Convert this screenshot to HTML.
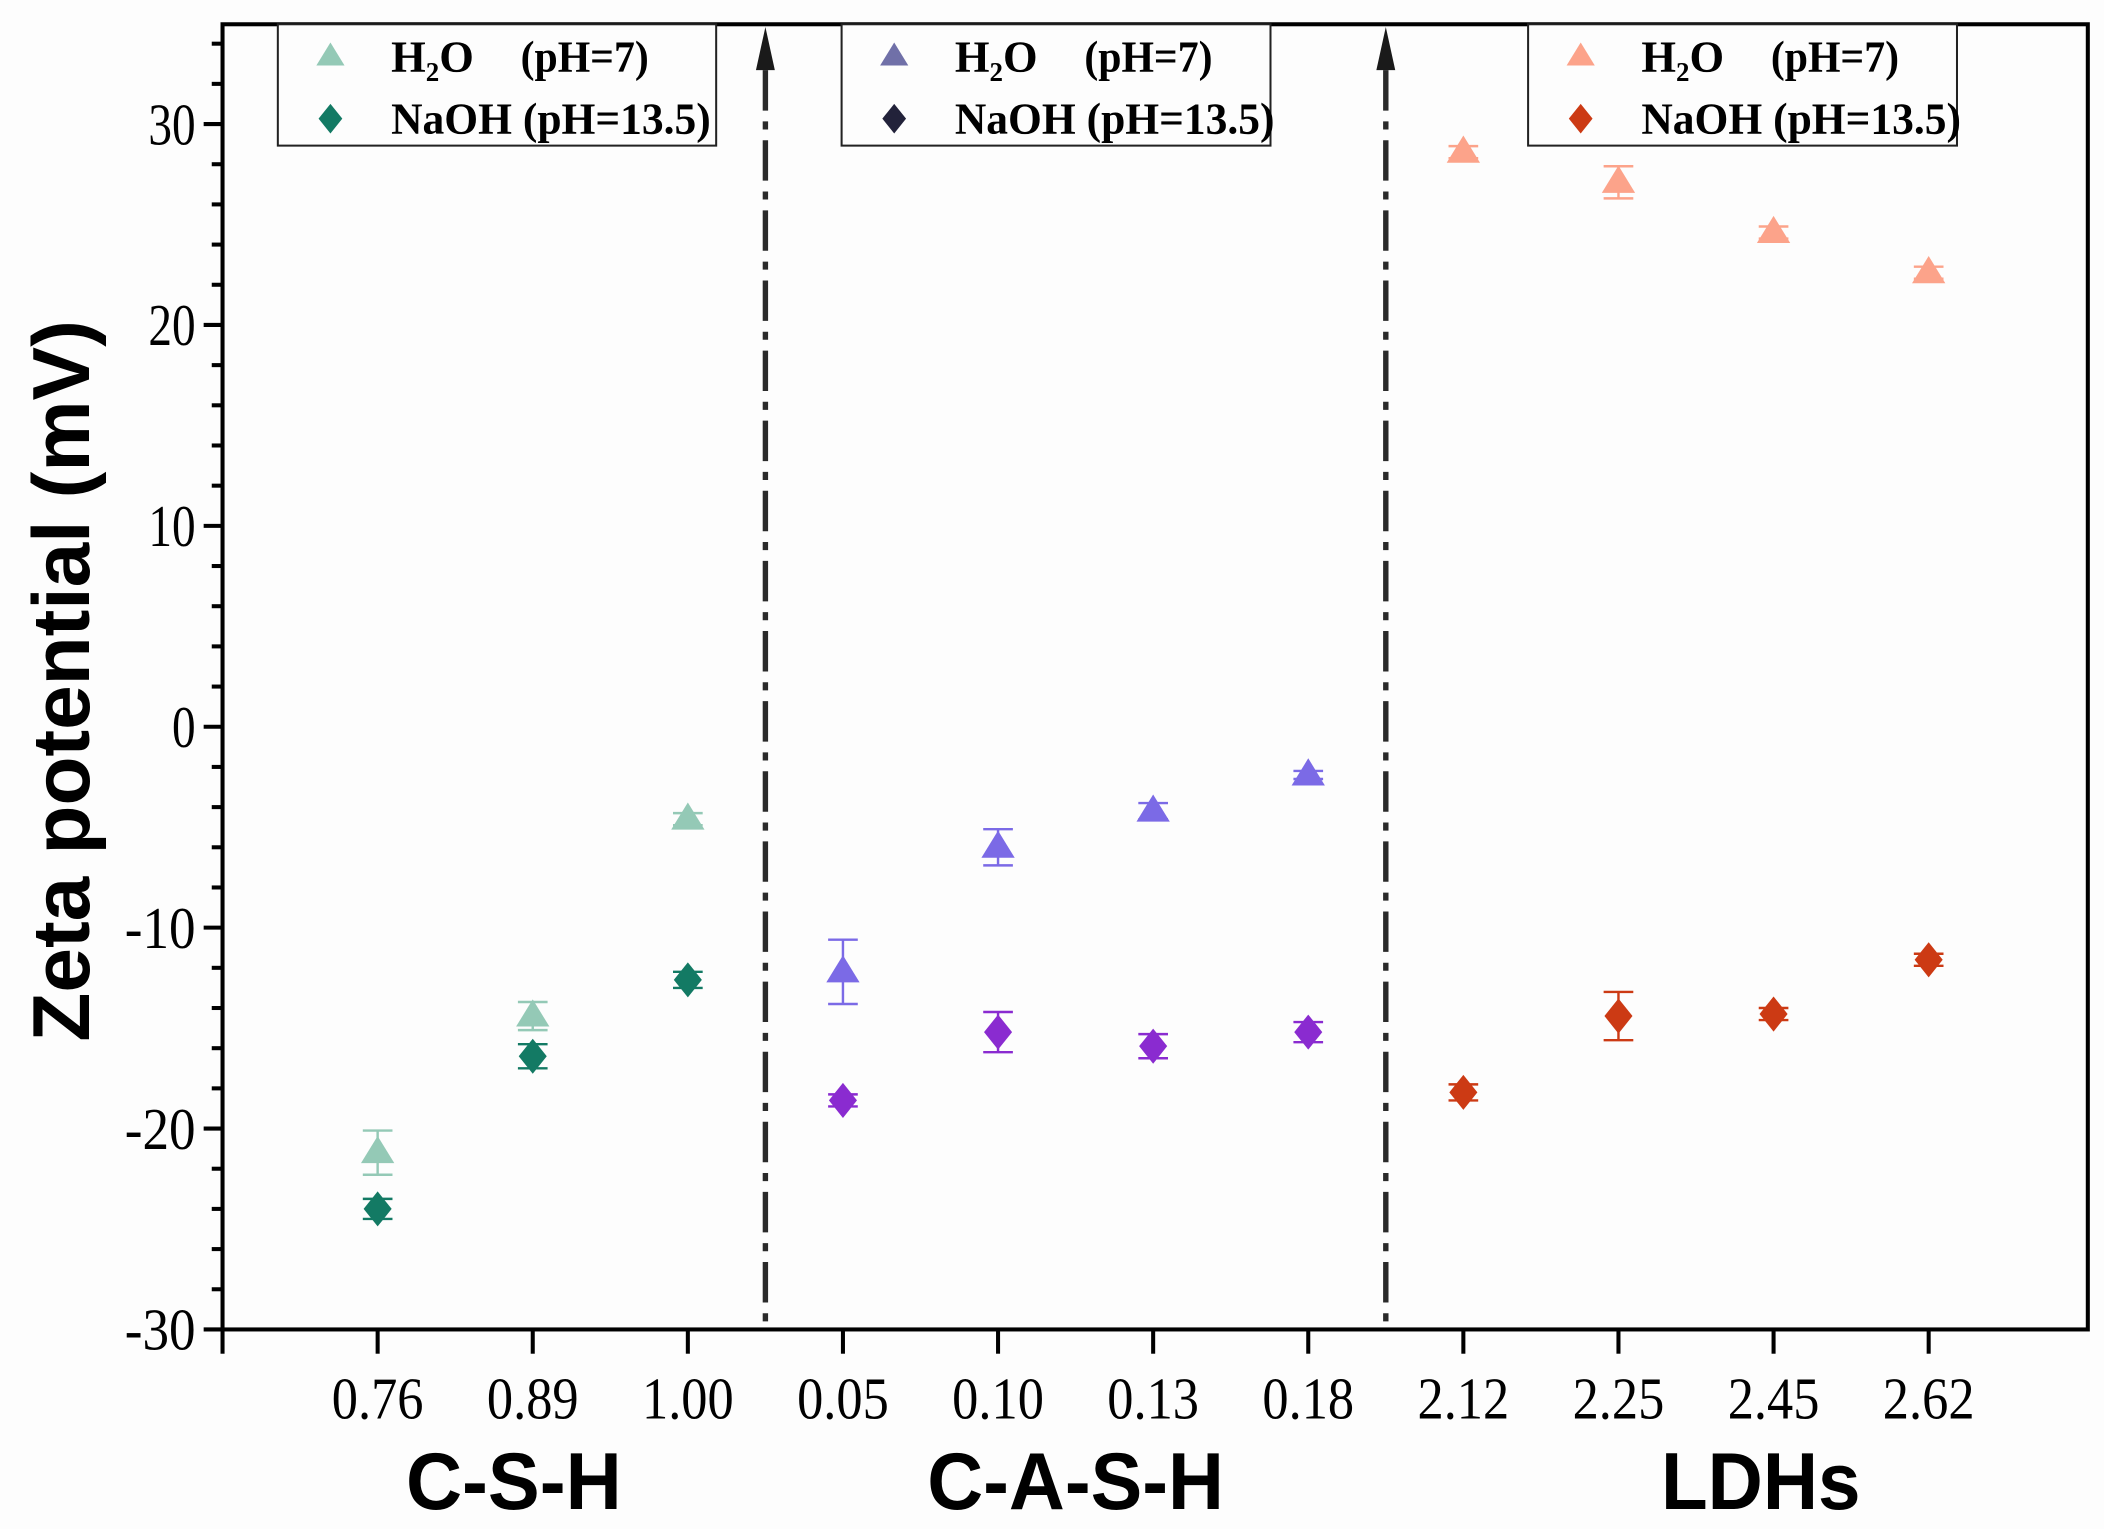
<!DOCTYPE html>
<html><head><meta charset="utf-8"><style>
html,body{margin:0;padding:0;background:#fdfdfd;}
svg{display:block;}
</style></head><body>
<svg id="chart" width="2104" height="1529" viewBox="0 0 1560 1134" preserveAspectRatio="none" xmlns="http://www.w3.org/2000/svg">
<rect x="0" y="0" width="1560" height="1134" fill="#fdfdfd"/>
<g id="plot"></g>
</svg>
<script>
const categories = ["0.76","0.89","1.00","0.05","0.10","0.13","0.18","2.12","2.25","2.45","2.62"];
const groupNames = ["C-S-H","C-A-S-H","LDHs"];
const groupStart = [0,3,7];
const groupEnd = [2,6,10];
const yTicks = [-30,-20,-10,0,10,20,30];
const cshH2O = [-21.2,-14.4,-4.6];
const cshH2OErr = [1.1,0.7,0.3];
const cshNaOH = [-24.0,-16.4,-12.6];
const cshNaOHErr = [0.5,0.6,0.4];
const cashH2O = [-12.2,-6.0,-4.2,-2.4];
const cashH2OErr = [1.6,0.9,0.4,0.2];
const cashNaOH = [-18.6,-15.2,-15.9,-15.2];
const cashNaOHErr = [0.3,1.0,0.6,0.5];
const ldhH2O = [28.6,27.1,24.6,22.6];
const ldhH2OErr = [0.3,0.8,0.3,0.3];
const ldhNaOH = [-18.2,-14.4,-14.3,-11.6];
const ldhNaOHErr = [0.4,1.2,0.3,0.3];

const NS="http://www.w3.org/2000/svg";
const g=document.getElementById('plot');
const L=165,R=1548,T=18,B=986;
const yMin=-30;
function y(v){return 986-(v-yMin)*(149/10);}
function x(i){return L+115*(i+1);}
function el(tag,attrs,parent){const e=document.createElementNS(NS,tag);for(const k in attrs)e.setAttribute(k,attrs[k]);(parent||g).appendChild(e);return e;}

let fr=el('rect',{x:L,y:T,width:R-L,height:B-T,fill:'#fdfdfd',stroke:'#000','stroke-width':3});



for(let v=-30;v<=34;v+=2){
  const major=(v%10===0);
  const t=el('line',{x1:L-(major?14:8),x2:L,y1:y(v),y2:y(v),stroke:'#000','stroke-width':3});
  
  
}
yTicks.forEach(v=>{
  const s=String(v);
  const t=el('text',{x:L-20,y:y(v)+15,'text-anchor':'end','font-family':'Liberation Serif, serif','font-size':44,fill:'#000',textLength:s.length*17.5,lengthAdjust:'spacingAndGlyphs'});
  t.textContent=s;
  
  
});
for(let i=-1;i<categories.length;i++){
  const t=el('line',{x1:x(i),x2:x(i),y1:B,y2:B+18,stroke:'#000','stroke-width':3});
  
  
}
categories.forEach((c,i)=>{
  const t=el('text',{x:x(i),y:1052,'text-anchor':'middle','font-family':'Liberation Serif, serif','font-size':44,fill:'#000',textLength:68,lengthAdjust:'spacingAndGlyphs'});
  t.textContent=c;
  
  
});
const groupLen=[160,220,148];
const groupShift=[-14,0,48];
groupNames.forEach((n,k)=>{
  const cx=(x(groupStart[k])+x(groupEnd[k]))/2+groupShift[k];
  const t=el('text',{x:cx,y:1119,'text-anchor':'middle','font-family':'Liberation Sans, sans-serif','font-weight':'bold','font-size':60,fill:'#000',textLength:groupLen[k],lengthAdjust:'spacingAndGlyphs'});
  t.textContent=n;
  
  
});
const yt=el('text',{x:0,y:0,transform:'translate(66,505) rotate(-90)','text-anchor':'middle','font-family':'Liberation Sans, sans-serif','font-weight':'bold','font-size':60,fill:'#000',textLength:535,lengthAdjust:'spacingAndGlyphs'});
yt.textContent='Zeta potential (mV)';



[(x(2)+x(3))/2,(x(6)+x(7))/2].forEach(dx=>{
  const d=el('line',{x1:dx,x2:dx,y1:52,y2:B-4,stroke:'#2a2a2a','stroke-width':4,'stroke-dasharray':'30 8 6 8'});
  
  
  const a=el('polygon',{points:`${dx},20 ${dx-7},52 ${dx+7},52`,fill:'#1a1a1a'});
  
  
});

function tri(cx,cy,s,col,parent){return el('polygon',{points:`${cx},${cy-s*0.95} ${cx-s*0.95},${cy+s*0.6} ${cx+s*0.95},${cy+s*0.6}`,fill:col},parent);}
function dia(cx,cy,s,col,parent){return el('polygon',{points:`${cx},${cy-s} ${cx+s*0.8},${cy} ${cx},${cy+s} ${cx-s*0.8},${cy}`,fill:col},parent);}

function series(vals,errs,start,col,shape,name){
  vals.forEach((v,j)=>{
    const cx=x(start+j),cy=y(v),e=errs[j];
    const eb=el('path',{d:`M${cx},${y(v+e)}V${y(v-e)}M${cx-11},${y(v+e)}H${cx+11}M${cx-11},${y(v-e)}H${cx+11}`,stroke:col,'stroke-width':1.8,fill:'none'});
    
    
    const m=shape==='tri'?tri(cx,cy,13,col):dia(cx,cy,13,col);
    
    
  });
}
series(cshH2O,cshH2OErr,0,'#94c9b6','tri','csh-h2o');
series(cshNaOH,cshNaOHErr,0,'#137a64','dia','csh-naoh');
series(cashH2O,cashH2OErr,3,'#7b6ae6','tri','cash-h2o');
series(cashNaOH,cashNaOHErr,3,'#8a2bd0','dia','cash-naoh');
series(ldhH2O,ldhH2OErr,7,'#fca38a','tri','ldh-h2o');
series(ldhNaOH,ldhNaOHErr,7,'#cc3a14','dia','ldh-naoh');

const legends=[[206,531,'#94c9b6','#137a64'],[624,942,'#7070a8','#22223a'],[1133,1451,'#fca38a','#cc3a14']];
legends.forEach(([l,r,c1,c2],k)=>{
  const lg=el('g',{});
  
  
  el('rect',{x:l,y:T,width:r-l,height:90,fill:'#fdfdfd',stroke:'#222','stroke-width':1.5},lg);
  tri(l+39,42,11,c1,lg);
  dia(l+39,88,11,c2,lg);
  const ta=el('text',{x:l+84,y:53,'font-family':'Liberation Serif, serif','font-weight':'bold','font-size':33,fill:'#000'},lg);
  ta.innerHTML='H<tspan font-size="20" dy="7">2</tspan><tspan dy="-7">O</tspan>';
  
  
  const tb=el('text',{x:l+180,y:53,'font-family':'Liberation Serif, serif','font-weight':'bold','font-size':33,fill:'#000',textLength:95,lengthAdjust:'spacingAndGlyphs'},lg);
  tb.textContent='(pH=7)';
  
  
  const t2=el('text',{x:l+84,y:99,'font-family':'Liberation Serif, serif','font-weight':'bold','font-size':33,fill:'#000',textLength:237,lengthAdjust:'spacingAndGlyphs'},lg);
  t2.textContent='NaOH  (pH=13.5)';
  t2.setAttribute('xml:space','preserve');
  
  
});
</script>
</body></html>
